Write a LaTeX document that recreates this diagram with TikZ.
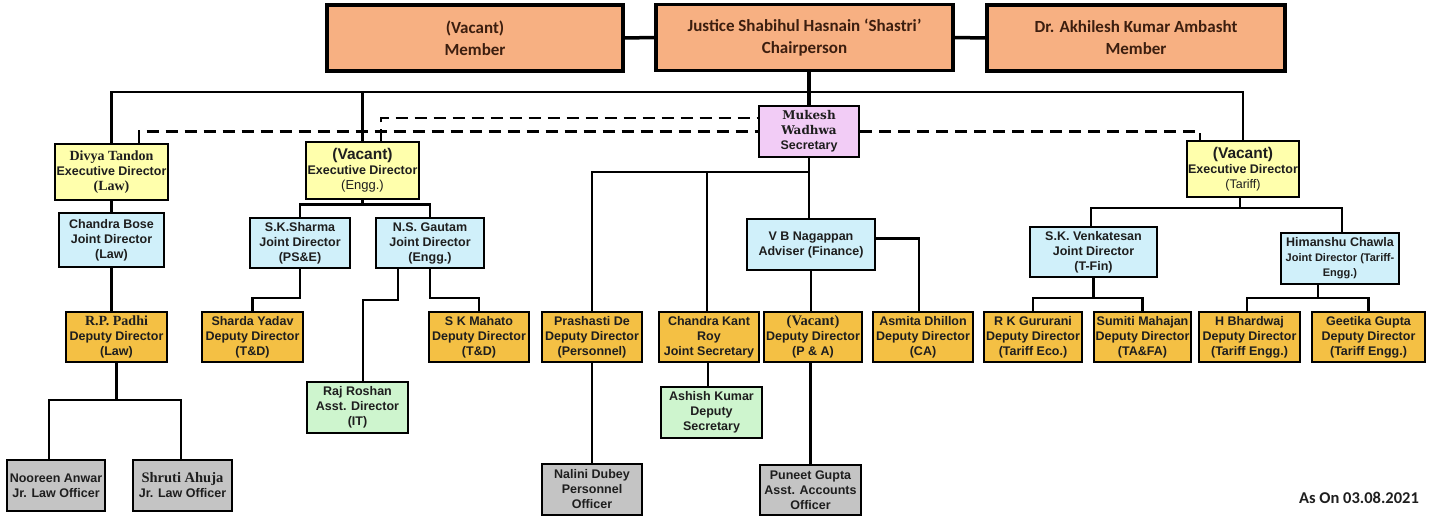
\documentclass[tikz,border=0pt]{standalone}
\usepackage{fontspec}
\setmainfont{Liberation Sans}
\newfontfamily\topfont{Carlito}
\newfontfamily\namefont{Liberation Serif}
\newfontfamily\slabfont{DejaVu Serif}
\usetikzlibrary{calc, positioning}

\definecolor{topfill}{RGB}{247,176,130}
\definecolor{topink}{RGB}{60,30,15}
\definecolor{edfill}{RGB}{255,255,172}
\definecolor{jdfill}{RGB}{208,240,250}
\definecolor{ddfill}{RGB}{244,192,68}
\definecolor{adfill}{RGB}{206,245,206}
\definecolor{offill}{RGB}{196,196,196}
\definecolor{secfill}{RGB}{242,204,246}
\definecolor{inkdark}{RGB}{30,30,30}

\begin{document}
\begin{tikzpicture}[
  x=1pt, y=-1pt,
  post/.style={draw=black, line width=2pt, align=center, inner sep=0pt,
    text=inkdark, font=\bfseries\fontsize{12.5}{15}\selectfont},
  topbox/.style={post, fill=topfill, line width=3.5pt, minimum height=66pt,
    text=topink, font=\topfont\bfseries\fontsize{17}{22}\selectfont},
  edbox/.style={post, fill=edfill, minimum height=56pt},
  jdbox/.style={post, fill=jdfill, minimum height=51pt},
  ddbox/.style={post, fill=ddfill, minimum height=50pt},
  adbox/.style={post, fill=adfill, minimum height=51pt},
  offbox/.style={post, fill=offill, minimum height=51pt},
  secbox/.style={post, fill=secfill, minimum height=51pt},
  link/.style={line width=2.2pt},
  dashlink/.style={line width=2.2pt, dash pattern=on 12pt off 7pt},
]
\useasboundingbox (0,0) rectangle (1435,516);

% Commission
\node[topbox, minimum width=296pt] (memA) at (475,38) {(Vacant)\\Member};
\node[topbox, minimum width=297pt] (chair) at (804.5,37.5) {Justice Shabihul Hasnain ‘Shastri’\\Chairperson};
\node[topbox, minimum width=298pt] (memB) at (1136,38) {Dr. Akhilesh Kumar Ambasht\\Member};

% Secretary
\node[secbox, minimum width=100pt] (mukesh) at (809,131.5)
  {{\slabfont\fontsize{12}{16}\selectfont Mukesh}\\{\slabfont\fontsize{12}{16}\selectfont Wadhwa}\\Secretary};

% Executive Directors
\node[edbox, minimum width=113pt] (divya) at (111.5,172)
  {{\namefont\fontsize{14}{16}\selectfont Divya Tandon}\\Executive Director\\{\namefont\fontsize{14}{16}\selectfont (Law)}};
\node[edbox, minimum width=113pt] (edEngg) at (362.5,170.5)
  {{\fontsize{15.5}{17}\selectfont (Vacant)}\\Executive Director\\{\mdseries\fontsize{13}{19}\selectfont (Engg.)}};
\node[edbox, minimum width=112pt] (edTariff) at (1243,169)
  {{\fontsize{15.5}{17}\selectfont (Vacant)}\\Executive Director\\{\mdseries (Tariff)}};

% Joint Directors / Adviser
\node[jdbox, minimum width=105pt, minimum height=54pt] (bose) at (111.5,240) {Chandra Bose\\Joint Director\\(Law)};
\node[jdbox, minimum width=100pt, minimum height=50pt] (sharma) at (300,243) {S.K.Sharma\\Joint Director\\(PS\&E)};
\node[jdbox, minimum width=108pt, minimum height=50pt] (gautam) at (430,243) {N.S. Gautam\\Joint Director\\(Engg.)};
\node[jdbox, minimum width=128pt] (nagappan) at (811,244.5) {V B Nagappan\\Adviser (Finance)};
\node[jdbox, minimum width=127pt, minimum height=50pt] (venkat) at (1093.5,252) {S.K. Venkatesan\\Joint Director\\(T-Fin)};
\node[jdbox, minimum width=118pt] (himanshu) at (1340,258.5)
  {Himanshu Chawla\\{\fontsize{11}{14}\selectfont Joint Director (Tariff-}\\{\fontsize{11}{12}\selectfont Engg.)}};

% Deputy Directors
\node[ddbox, minimum width=101pt] (padhi) at (116.5,337) {{\namefont\fontsize{14}{15}\selectfont R.P. Padhi}\\Deputy Director\\(Law)};
\node[ddbox, minimum width=101pt] (sharda) at (252.5,337) {Sharda Yadav\\Deputy Director\\(T\&D)};
\node[ddbox, minimum width=100pt] (mahato) at (479,337) {S K Mahato\\Deputy Director\\(T\&D)};
\node[ddbox, minimum width=100pt] (prashasti) at (592,337) {Prashasti De\\Deputy Director\\(Personnel)};
\node[ddbox, minimum width=100pt] (ckroy) at (709,337) {Chandra Kant\\Roy\\Joint Secretary};
\node[ddbox, minimum width=98pt] (vacPA) at (813,337) {{\namefont\fontsize{14.5}{15}\selectfont (Vacant)}\\Deputy Director\\(P \& A)};
\node[ddbox, minimum width=100pt] (asmita) at (923,337) {Asmita Dhillon\\Deputy Director\\(CA)};
\node[ddbox, minimum width=98pt] (gururani) at (1033,337) {R K Gururani\\Deputy Director\\(Tariff Eco.)};
\node[ddbox, minimum width=97pt] (sumiti) at (1142.5,337) {Sumiti Mahajan\\Deputy Director\\(TA\&FA)};
\node[ddbox, minimum width=101pt] (bhardwaj) at (1249.5,337) {H Bhardwaj\\Deputy Director\\(Tariff Engg.)};
\node[ddbox, minimum width=113pt] (geetika) at (1368.5,337) {Geetika Gupta\\Deputy Director\\(Tariff Engg.)};

% Assistant level
\node[adbox, minimum width=101pt] (raj) at (357.5,407.5) {Raj Roshan\\Asst. Director\\(IT)};
\node[adbox, minimum width=101pt] (ashish) at (711.5,412.5) {Ashish Kumar\\Deputy\\Secretary};

% Officers
\node[offbox, minimum width=98pt] (nooreen) at (56,485.5) {Nooreen Anwar\\Jr. Law Officer};
\node[offbox, minimum width=99pt] (shruti) at (182.5,485.5) {{\namefont\fontsize{14.5}{15}\selectfont Shruti Ahuja}\\Jr. Law Officer};
\node[offbox, minimum width=100pt] (nalini) at (592,489.5) {Nalini Dubey\\Personnel\\Officer};
\node[offbox, minimum width=101pt, minimum height=50pt] (puneet) at (810.5,490) {Puneet Gupta\\Asst. Accounts\\Officer};

\node[font=\topfont\bfseries\fontsize{16.5}{18}\selectfont, text=inkdark] (stamp) at (1359,498) {As On 03.08.2021};

% links between members
\draw[line width=3.5pt] (memA.east) -- (chair.west);
\draw[line width=3.5pt] (chair.east) -- (memB.west);
\draw[line width=3.5pt] (mukesh.north) -- (mukesh.north |- chair.south);

% chairperson bus to executive directors
\coordinate (bus) at (0,92);
\draw[link] (divya.north) |- (bus -| edTariff.north) -- (edTariff.north);
\draw[link] (edEngg.north) -- (edEngg.north |- bus);

% dashed links to the secretary
\draw[dashlink] ([xshift=18.5pt]edEngg.north) |- ([yshift=13.5pt]mukesh.west);
\draw[dashlink] ([xshift=27.5pt]divya.north) |- (mukesh.west);
\draw[dashlink] (mukesh.east) -| ([xshift=-43pt]edTariff.north);

% secretary branch
\coordinate (secfork) at ([yshift=-14pt]mukesh.south);
\draw[link] (mukesh.south) -- (mukesh.south |- nagappan.north);
\draw[link] (prashasti.north) |- (secfork);
\draw[link] ([xshift=-2pt]ckroy.north) -- ([xshift=-2pt]ckroy.north |- secfork);
\draw[link] (prashasti.south) -- (nalini.north);
\draw[link] ([xshift=-1pt]ckroy.south) -- ([xshift=-1pt]ckroy.south |- ashish.north);
\draw[link] (nagappan.south) -- (nagappan.south |- vacPA.north);
\draw[link] ([yshift=6pt]nagappan.east) -| ([xshift=-4pt]asmita.north);
\draw[link] (puneet.north) -- (puneet.north |- vacPA.south);

% law branch
\coordinate (lawfork) at ([yshift=-37pt]padhi.south);
\draw[link] (divya.south) -- (bose.north);
\draw[link] (bose.south) -- (bose.south |- padhi.north);
\draw[link] (padhi.south) -- (lawfork);
\draw[link] ([xshift=-7pt]nooreen.north) |- (lawfork) -| ([xshift=-1.5pt]shruti.north);

% engineering branch
\coordinate (enggfork) at ([yshift=-5pt]edEngg.south);
\draw[link] (edEngg.south) -- (enggfork);
\draw[link] (sharma.north) |- (enggfork) -| (gautam.north);
\draw[link] (sharma.south) -- ++(0,29) -| (sharda.north);
\draw[link] (gautam.south) -- ++(0,29) -| (mahato.north);
\draw[link] ([xshift=-32pt]gautam.south) -- ++(0,31) -| ([xshift=5.5pt]raj.north);

% tariff branch
\coordinate (tarfork) at ([xshift=-3pt, yshift=-10pt]edTariff.south);
\coordinate (venfork) at ([yshift=-20pt]venkat.south);
\coordinate (himfork) at ([xshift=-22pt, yshift=-13pt]himanshu.south);
\draw[link] ([xshift=-3pt]edTariff.south) -- (tarfork);
\draw[link] ([xshift=-2.5pt]venkat.north) |- (tarfork) -| ([xshift=2pt]himanshu.north);
\draw[link] (venkat.south) -- (venfork);
\draw[link] (gururani.north) |- (venfork) -| (sumiti.north);
\draw[link] ([xshift=-22pt]himanshu.south) -- (himfork);
\draw[link] ([xshift=-2.5pt]bhardwaj.north) |- (himfork) -| (geetika.north);

\end{tikzpicture}
\end{document}
